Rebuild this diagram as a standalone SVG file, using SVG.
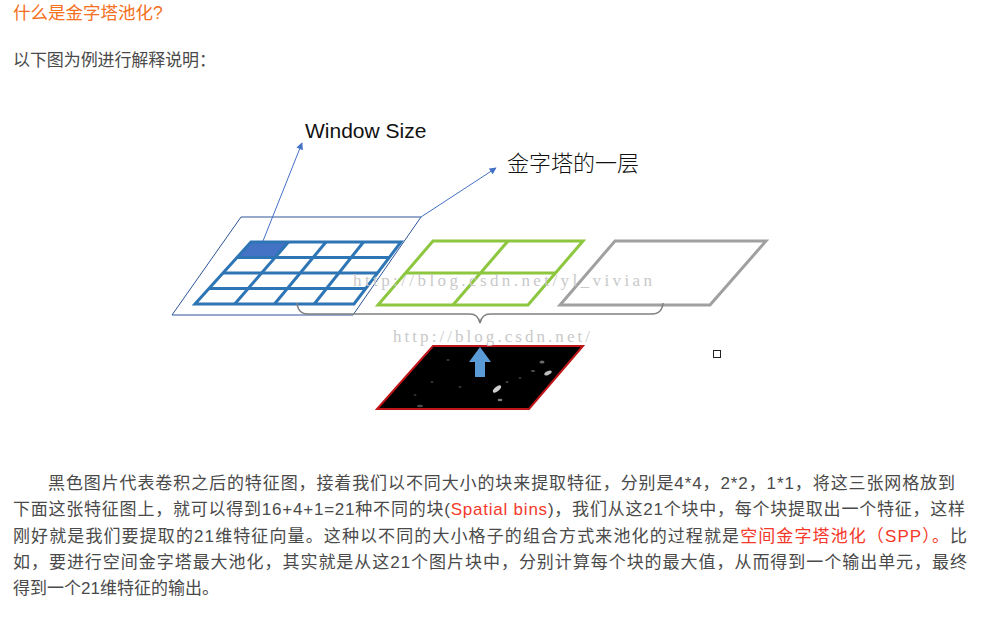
<svg xmlns="http://www.w3.org/2000/svg" width="990" height="618" viewBox="0 0 990 618">
  <style>
    .txt { font-family: "Liberation Sans", "Noto Sans CJK SC", sans-serif; }
    .head { font-size: 17.5px; fill: #F4701E; }
    .body { font-size: 17px; fill: #4A4A4A; }
    .red { fill: #F4382A; }
    .label { font-family: "Liberation Sans", "Noto Sans CJK SC", sans-serif; fill: #111; }
    .wm { font-family: "Liberation Serif", "Noto Serif", serif; font-size: 17px; fill: #C9C9C9; }
    .grid { fill: none; stroke: #2E75B6; stroke-width: 3; stroke-linejoin: miter; }
    .green { fill: none; stroke: #8DC63F; stroke-width: 3; }
    .gray { fill: none; stroke: #A0A0A0; stroke-width: 3; }
    .conn { fill: none; stroke: #4472C4; stroke-width: 1; }
  </style>
  <defs>
    <marker id="tri" viewBox="0 0 10 10" refX="9" refY="5" markerWidth="8" markerHeight="7" markerUnits="userSpaceOnUse" orient="auto">
      <path d="M0,0 L10,5 L0,10 Z" fill="#4472C4"/>
    </marker>
    <filter id="soft" x="-50%" y="-50%" width="200%" height="200%">
      <feGaussianBlur stdDeviation="0.6"/>
    </filter>
  </defs>

  <rect width="990" height="618" fill="#FFFFFF"/>

  <!-- heading and intro -->
  <text id="title" class="txt head" x="13" y="19">什么是金字塔池化?</text>
  <text id="intro" class="txt body" x="13" y="66" fill="#3F3F3F" textLength="203" lengthAdjust="spacing">以下图为例进行解释说明：</text>

  <!-- 4x4 level with its outer frame -->
  <g id="level-4x4">
    <polygon points="241,217 421,217 353,315 172,315" fill="none" stroke="#2F5597" stroke-width="1"/>
    <polygon points="251,242 288.5,242 275,257.5 237,257.5" fill="#4472C4" stroke="#2F5597" stroke-width="1"/>
    <g class="grid">
      <polygon points="251,242 401,242 354,304 195,304"/>
      <line x1="237" y1="257.5" x2="389.25" y2="257.5"/>
      <line x1="223" y1="273" x2="377.5" y2="273"/>
      <line x1="209" y1="288.5" x2="365.75" y2="288.5"/>
      <line x1="288.5" y1="242" x2="234.75" y2="304"/>
      <line x1="326" y1="242" x2="274.5" y2="304"/>
      <line x1="363.5" y1="242" x2="314.25" y2="304"/>
    </g>
  </g>

  <!-- 2x2 level -->
  <g id="level-2x2">
    <g class="green">
      <polygon points="433,241 583,241 528,305 378,305"/>
      <line x1="405.5" y1="273" x2="555.5" y2="273"/>
      <line x1="508" y1="241" x2="453" y2="305"/>
    </g>
  </g>

  <!-- 1x1 level -->
  <g id="level-1x1">
    <polygon class="gray" points="615,241 766,241 710,305 560,305"/>
  </g>

  <!-- brace grouping the three levels -->
  <g id="brace">
    <path d="M297,303 Q298,314 308,314 L470,314 Q478,314 480,323 Q482,314 490,314 L652,314 Q662,314 663,303" fill="none" stroke="#808080" stroke-width="1.5"/>
  </g>

  <!-- watermarks -->
  <text class="wm" x="353" y="286" textLength="299" lengthAdjust="spacing">http://blog.csdn.net/yl_vivian</text>

  <!-- feature map -->
  <g id="feature-map">
    <polygon points="433,346 583,346 529,409 377,409" fill="#000" stroke="#C0161A" stroke-width="2"/>
    <g filter="url(#soft)">
      <ellipse cx="497" cy="389" rx="5" ry="2.2" fill="#CFCFCF" transform="rotate(-40 497 389)"/>
      <ellipse cx="548" cy="373" rx="4" ry="1.8" fill="#BDBDBD" transform="rotate(-25 548 373)"/>
      <ellipse cx="542" cy="362" rx="2.5" ry="1.5" fill="#6A6A6A"/>
      <ellipse cx="500" cy="400" rx="2.5" ry="1.2" fill="#7A7A7A"/>
      <ellipse cx="420" cy="406" rx="3" ry="1.3" fill="#4A4A4A"/>
      <ellipse cx="448" cy="360" rx="1.5" ry="1" fill="#3A3A3A"/>
      <ellipse cx="460" cy="387" rx="1.5" ry="1" fill="#3A3A3A"/>
      <ellipse cx="432" cy="382" rx="1.5" ry="1" fill="#3A3A3A"/>
      <ellipse cx="507" cy="382" rx="1.5" ry="1" fill="#444"/>
      <ellipse cx="533" cy="371" rx="2" ry="1" fill="#555"/>
      <ellipse cx="415" cy="395" rx="1.5" ry="1" fill="#333"/>
      <ellipse cx="520" cy="378" rx="1.5" ry="1" fill="#3A3A3A"/>
    </g>
  </g>

  <text class="wm" x="393" y="342" textLength="197" lengthAdjust="spacing">http://blog.csdn.net/</text>

  <!-- upward block arrow -->
  <g id="up-arrow">
    <polygon points="480,347 491,362 485,362 485,377 475,377 475,362 469,362" fill="#5B9BD5"/>
  </g>

  <!-- small marker square -->
  <g id="small-square">
    <rect x="713.5" y="350.5" width="7" height="7" fill="#FFF" stroke="#222" stroke-width="1"/>
  </g>

  <!-- callout labels -->
  <g id="label-window">
    <text class="label" x="305" y="138" font-size="21">Window Size</text>
  </g>
  <g id="label-layer">
    <text class="label" x="507" y="171" font-size="22" font-weight="300">金字塔的一层</text>
  </g>

  <g id="connectors">
    <line class="conn" x1="263" y1="241" x2="302" y2="143" marker-end="url(#tri)"/>
    <line class="conn" x1="421" y1="217" x2="496" y2="168" marker-end="url(#tri)"/>
  </g>

  <!-- explanation paragraph -->
  <g id="paragraph" class="txt body">
    <text x="48" y="489" textLength="907" lengthAdjust="spacing">黑色图片代表卷积之后的特征图，接着我们以不同大小的块来提取特征，分别是4*4，2*2，1*1，将这三张网格放到</text>
    <text x="13" y="515" textLength="952" lengthAdjust="spacing">下面这张特征图上，就可以得到16+4+1=21种不同的块(<tspan class="red">Spatial bins</tspan>)，我们从这21个块中，每个块提取出一个特征，这样</text>
    <text x="13" y="542" textLength="954" lengthAdjust="spacing">刚好就是我们要提取的21维特征向量。这种以不同的大小格子的组合方式来池化的过程就是<tspan class="red">空间金字塔池化（SPP）。</tspan>比</text>
    <text x="13" y="568" textLength="954" lengthAdjust="spacing">如，要进行空间金字塔最大池化，其实就是从这21个图片块中，分别计算每个块的最大值，从而得到一个输出单元，最终</text>
    <text x="13" y="594">得到一个21维特征的输出。</text>
  </g>
</svg>
